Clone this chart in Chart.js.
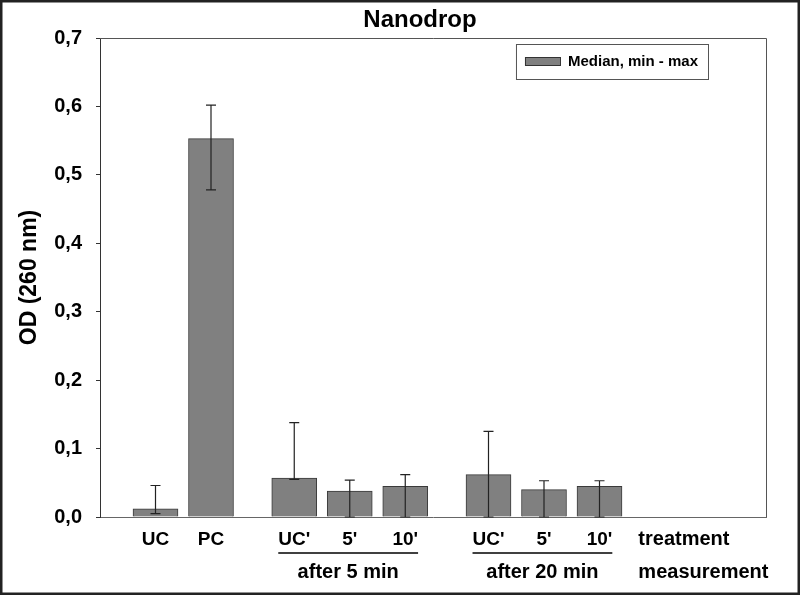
<!DOCTYPE html>
<html>
<head>
<meta charset="utf-8">
<script src="https://cdn.jsdelivr.net/npm/chart.js@4.4.1/dist/chart.umd.min.js"></script>
<style>
  html, body { margin: 0; padding: 0; background: #fff; }
  #wrap { width: 800px; height: 595px; }
</style>
</head>
<body>
<div id="wrap"><canvas id="mainChart" width="800" height="595"></canvas></div>
<script>
// values
const treatments = ['UC', 'PC', "UC'", "5'", "10'", "UC'", "5'", "10'"];
const groups = ['', 'after 5 min', 'after 20 min'];
const groupOf = [0, 0, 1, 1, 1, 2, 2, 2];
const medians = [0.012, 0.553, 0.057, 0.038, 0.045, 0.062, 0.040, 0.045];
const mins = [0.005, 0.478, 0.055, 0, 0, 0, 0, 0];
const maxs = [0.046, 0.602, 0.138, 0.054, 0.062, 0.125, 0.053, 0.053];
const rowLabels = ['treatment', 'measurement'];
const yTicks = [0, 0.1, 0.2, 0.3, 0.4, 0.5, 0.6, 0.7];

const FONT = '"Liberation Sans", Arial, sans-serif';

// slots on the x axis: two per bar, one extra between groups
const slots = [];
let s = 2;
treatments.forEach((t, i) => {
    if (i > 0) s += (groupOf[i] !== groupOf[i - 1]) ? 3 : 2;
    slots.push(s);
});
const nSlots = 25;
const labels = new Array(nSlots).fill('');
const barData = new Array(nSlots).fill(null);
slots.forEach((k, i) => {
    labels[k] = treatments[i];
    barData[k] = medians[i];
});

const extras = {
    id: 'extras',
    afterDatasetsDraw(chart) {
        const ctx = chart.ctx;
        const y = chart.scales.y;
        const meta = chart.getDatasetMeta(0);
        ctx.save();
        // min - max whiskers
        ctx.strokeStyle = '#222';
        ctx.lineWidth = 1.2;
        slots.forEach((k, i) => {
            const x = meta.data[k].x;
            const top = y.getPixelForValue(maxs[i]);
            const bot = y.getPixelForValue(mins[i]);
            ctx.beginPath();
            ctx.moveTo(x, top); ctx.lineTo(x, bot);
            ctx.moveTo(x - 5, top); ctx.lineTo(x + 5, top);
            ctx.moveTo(x - 5, bot); ctx.lineTo(x + 5, bot);
            ctx.stroke();
        });
        ctx.restore();
    },
    afterDraw(chart) {
        const ctx = chart.ctx;
        const a = chart.chartArea;
        const x = chart.scales.x;
        const meta = chart.getDatasetMeta(0);
        ctx.save();

        // plot box top / right
        ctx.strokeStyle = '#555';
        ctx.lineWidth = 1;
        ctx.beginPath();
        ctx.moveTo(a.left, a.top + 0.5); ctx.lineTo(a.right + 0.5, a.top + 0.5);
        ctx.lineTo(a.right + 0.5, a.bottom);
        ctx.stroke();

        // title
        ctx.fillStyle = '#000';
        ctx.font = 'bold 24px ' + FONT;
        ctx.textAlign = 'center';
        ctx.textBaseline = 'alphabetic';
        ctx.fillText('Nanodrop', 420, 27);

        // y axis title
        ctx.save();
        ctx.translate(30, (a.top + a.bottom) / 2);
        ctx.rotate(-Math.PI / 2);
        ctx.font = 'bold 23px ' + FONT;
        ctx.textBaseline = 'middle';
        ctx.fillText('OD (260 nm)', 0, 0);
        ctx.restore();

        // group underlines and measurement labels
        ctx.font = 'bold 19px ' + FONT;
        const tickFont = ctx.font;
        groups.forEach((g, gi) => {
            if (!g) return;
            const idx = [];
            groupOf.forEach((v, i) => { if (v === gi) idx.push(i); });
            const first = idx[0], last = idx[idx.length - 1];
            ctx.font = tickFont;
            const x0 = meta.data[slots[first]].x - ctx.measureText(treatments[first]).width / 2;
            const x1 = meta.data[slots[last]].x + ctx.measureText(treatments[last]).width / 2;
            ctx.strokeStyle = '#000';
            ctx.lineWidth = 1.6;
            ctx.beginPath();
            ctx.moveTo(x0, 553); ctx.lineTo(x1, 553);
            ctx.stroke();
            ctx.font = 'bold 20px ' + FONT;
            ctx.textAlign = 'center';
            ctx.textBaseline = 'middle';
            ctx.fillText(g, (x0 + x1) / 2, 572);
        });

        // row labels
        const rx = x.getPixelForValue(slots[slots.length - 1] + 1.4);
        ctx.font = 'bold 20px ' + FONT;
        ctx.textAlign = 'left';
        ctx.textBaseline = 'middle';
        ctx.fillText(rowLabels[0], rx, 539);
        ctx.fillText(rowLabels[1], rx, 572);

        // legend
        ctx.font = 'bold 15px ' + FONT;
        const txt = 'Median, min - max';
        const tw = ctx.measureText(txt).width;
        const bw = 9 + 35 + 8 + tw + 10;
        const bx = a.right - 58 - bw;
        const by = a.top + 6;
        ctx.fillStyle = '#fff';
        ctx.fillRect(bx, by, bw, 35);
        ctx.strokeStyle = '#555';
        ctx.lineWidth = 1;
        ctx.strokeRect(bx + 0.5, by + 0.5, bw, 35);
        ctx.fillStyle = '#808080';
        ctx.fillRect(bx + 9, by + 13, 35, 8);
        ctx.strokeStyle = '#333';
        ctx.strokeRect(bx + 9.5, by + 13.5, 35, 8);
        ctx.fillStyle = '#000';
        ctx.textAlign = 'left';
        ctx.textBaseline = 'middle';
        ctx.fillText(txt, bx + 52, by + 18);

        // outer frame
        ctx.strokeStyle = '#222';
        ctx.lineWidth = 3;
        ctx.strokeRect(1, 1, chart.width - 2, chart.height - 2);
        ctx.restore();
    }
};

const ctx = document.getElementById('mainChart').getContext('2d');
const chart = new Chart(ctx, {
    type: 'bar',
    data: {
        labels: labels,
        datasets: [{
            label: 'Median, min - max',
            data: barData,
            backgroundColor: '#808080',
            borderColor: '#3a3a3a',
            borderWidth: 1,
            barThickness: 45
        }]
    },
    options: {
        responsive: false,
        animation: false,
        layout: { padding: { top: 38, right: 34, left: 0, bottom: 0 } },
        plugins: {
            legend: { display: false },
            title: { display: false },
            tooltip: { enabled: false }
        },
        scales: {
            x: {
                offset: false,
                grid: { display: false },
                border: { display: true, color: '#666', width: 1 },
                ticks: {
                    autoSkip: false,
                    maxRotation: 0,
                    minRotation: 0,
                    padding: 3,
                    color: '#000',
                    font: { family: FONT, size: 19, weight: 'bold' }
                },
                afterFit: (sc) => { sc.height = 78; }
            },
            y: {
                min: 0,
                max: 0.7,
                afterBuildTicks: (sc) => { sc.ticks = yTicks.map(v => ({ value: v })); },
                grid: { drawOnChartArea: false, drawTicks: true, tickLength: 4, color: '#333' },
                border: { display: true, color: '#333', width: 1 },
                ticks: {
                    padding: 14,
                    color: '#000',
                    font: { family: FONT, size: 20, weight: 'bold' },
                    callback: (v) => Number(v).toFixed(1).replace('.', ',')
                },
                afterFit: (sc) => { sc.width = 100; }
            }
        }
    },
    plugins: [extras]
});
</script>
</body>
</html>
